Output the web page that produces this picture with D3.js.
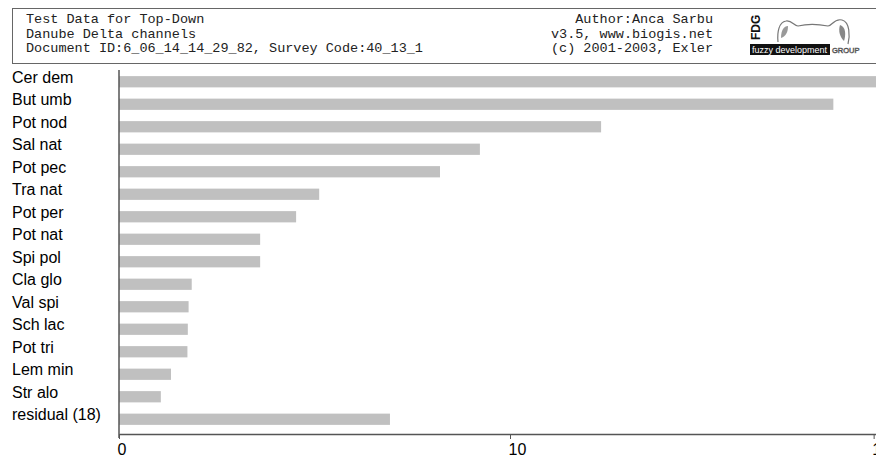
<!DOCTYPE html>
<html>
<head>
<meta charset="utf-8">
<script src="https://cdn.jsdelivr.net/npm/d3@7"></script>
<style>
  body { margin: 0; background: #fff; }
  svg { display: block; }
  .hdr { font-family: "Liberation Mono", "Courier New", monospace; font-size: 13.5px; fill: #222; }
  .lbl { font-family: "Liberation Sans", Arial, sans-serif; font-size: 16px; fill: #000; }
</style>
</head>
<body>
<div id="chart"></div>
<script>
// species (top to bottom) and their values
const species = ["Cer dem", "But umb", "Pot nod", "Sal nat", "Pot pec", "Tra nat", "Pot per", "Pot nat",
                 "Spi pol", "Cla glo", "Val spi", "Sch lac", "Pot tri", "Lem min", "Str alo", "residual (18)"];
const values = [19.4, 18.27, 12.33, 9.23, 8.21, 5.12, 4.53, 3.61,
                3.61, 1.86, 1.78, 1.76, 1.75, 1.33, 1.07, 6.93];
const xTicks = [0, 10, 19.3];

const headerLeft = ["Test Data for Top-Down", "Danube Delta channels",
                    "Document ID:6_06_14_14_29_82, Survey Code:40_13_1"];
const headerRight = ["Author:Anca Sarbu", "v3.5, www.biogis.net", "(c) 2001-2003, Exler"];

const W = 876, H = 459;
const svg = d3.select("#chart").append("svg").attr("width", W).attr("height", H);

// header box
svg.append("rect").attr("x", 12.5).attr("y", 8.5).attr("width", 900).attr("height", 55)
  .attr("fill", "none").attr("stroke", "#666").attr("stroke-width", 1);

headerLeft.forEach((t, i) => {
  svg.append("text").attr("class", "hdr").attr("x", 26).attr("y", 23 + i * 14.7).text(t);
});
headerRight.forEach((t, i) => {
  svg.append("text").attr("class", "hdr").attr("x", 713).attr("y", 23 + i * 14.7)
    .attr("text-anchor", "end").text(t);
});

// rough FDG logo
const logo = svg.append("g").attr("transform", "translate(748,12)");
logo.append("text").attr("transform", "translate(12,28) rotate(-90)")
  .attr("font-family", "Liberation Sans, Arial").attr("font-weight", "bold").attr("font-size", 12)
  .attr("fill", "#111").text("FDG");
logo.append("path")
  .attr("d", "M30,30 C29,20 31,10 38,9 C44,8 46,14 50,14 C58,12 70,12 80,14 C84,14 86,6 94,8 C102,10 102,24 100,32")
  .attr("fill", "none").attr("stroke", "#777").attr("stroke-width", 1.2);
logo.append("path").attr("d", "M33,26 C33,18 36,14 40,14 C40,20 38,24 33,26 Z").attr("fill", "#999");
logo.append("path").attr("d", "M92,13 C98,15 98,23 96,29 C92,25 90,19 92,13 Z").attr("fill", "#888");
logo.append("rect").attr("x", 2).attr("y", 32).attr("width", 80).attr("height", 11).attr("fill", "#111");
logo.append("text").attr("x", 4).attr("y", 41).attr("font-family", "Liberation Sans, Arial")
  .attr("font-size", 9).attr("fill", "#fff").text("fuzzy development");
logo.append("text").attr("x", 84).attr("y", 41).attr("font-family", "Liberation Sans, Arial")
  .attr("font-size", 7.5).attr("fill", "#fff").attr("stroke", "#555").attr("stroke-width", 0.6)
  .text("GROUP");

// scales
const x = d3.scaleLinear().domain([0, 20]).range([119, 901]);
const y = d3.scaleBand().domain(species).range([70.5, 430.5]).paddingInner(0.5).paddingOuter(0.25);

// bars
svg.append("g").selectAll("rect").data(species).join("rect")
  .attr("x", x(0))
  .attr("y", d => y(d))
  .attr("width", (d, i) => x(values[i]) - x(0))
  .attr("height", y.bandwidth())
  .attr("fill", "#c0c0c0");

// category labels
svg.append("g").selectAll("text").data(species).join("text")
  .attr("class", "lbl")
  .attr("x", 12)
  .attr("y", d => y(d) + y.bandwidth() / 2 + 1)
  .text(d => d);

// x axis
const xAxis = svg.append("g").attr("transform", "translate(0,434)")
  .call(d3.axisBottom(x).tickValues(xTicks).tickSize(5).tickSizeOuter(0)
    .tickFormat(d => d3.format("~g")(d)));
xAxis.select(".domain").attr("stroke", "#555").attr("stroke-width", 1.5);
xAxis.selectAll(".tick line").attr("stroke", "#555");
xAxis.selectAll(".tick text")
  .attr("font-family", "Liberation Sans, Arial").attr("font-size", 16).attr("fill", "#000")
  .attr("text-anchor", "start").attr("dx", -2).attr("dy", 0).attr("y", 21);

// y axis line
svg.append("line").attr("x1", x(0)).attr("x2", x(0)).attr("y1", 70).attr("y2", 438)
  .attr("stroke", "#555").attr("stroke-width", 1.5);
</script>
</body>
</html>
